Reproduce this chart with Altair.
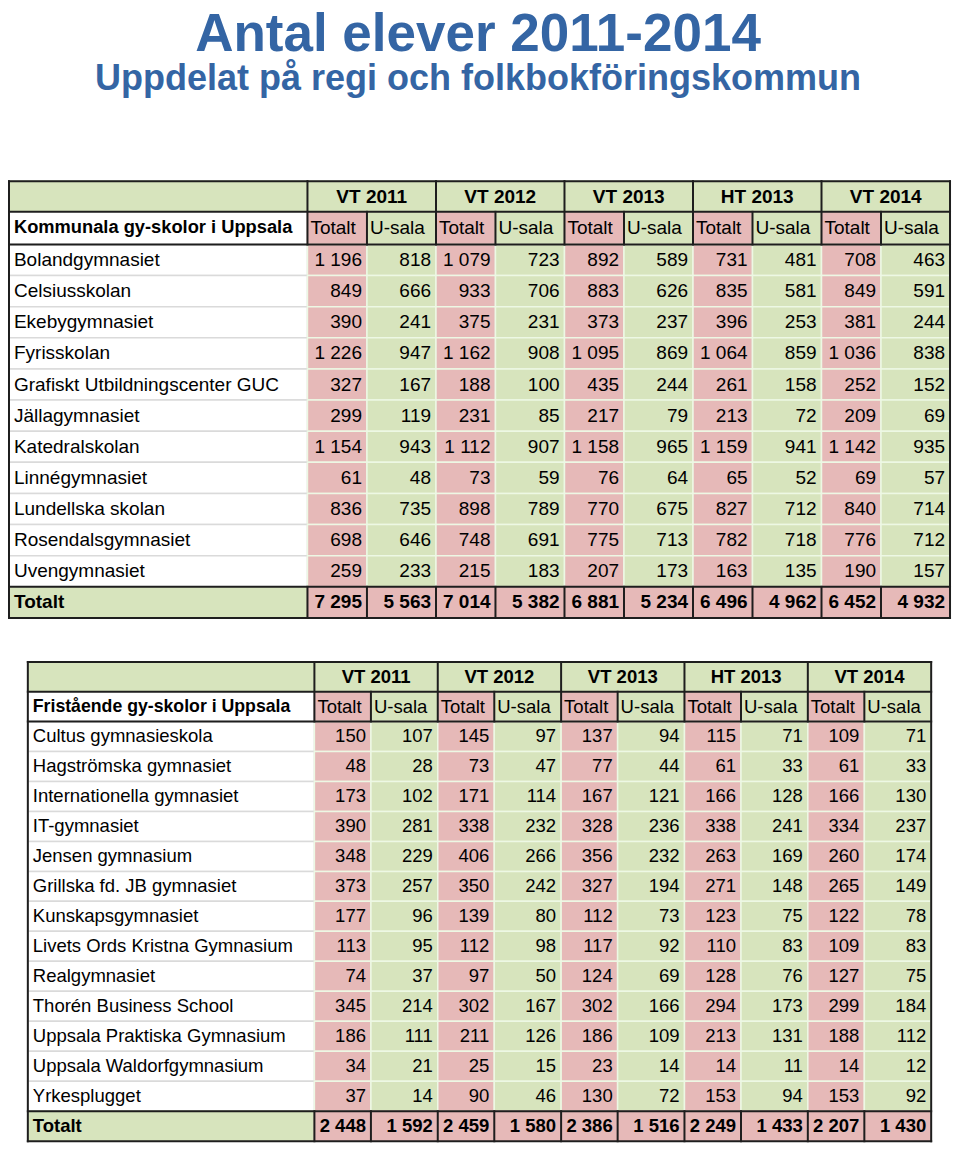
import altair as alt
import pandas as pd

# ---------------- data ----------------
title_main = "Antal elever 2011-2014"
title_sub = "Uppdelat på regi och folkbokföringskommun"

periods = ["VT 2011", "VT 2012", "VT 2013", "HT 2013", "VT 2014"]
subcols = ["Totalt", "U-sala"]
total_label = "Totalt"

kommunala_header = "Kommunala gy-skolor i Uppsala"
kommunala_schools = [
    "Bolandgymnasiet", "Celsiusskolan", "Ekebygymnasiet", "Fyrisskolan",
    "Grafiskt Utbildningscenter GUC", "Jällagymnasiet", "Katedralskolan",
    "Linnégymnasiet", "Lundellska skolan", "Rosendalsgymnasiet", "Uvengymnasiet",
]
kommunala_values = [
    [1196, 818, 1079, 723, 892, 589, 731, 481, 708, 463],
    [849, 666, 933, 706, 883, 626, 835, 581, 849, 591],
    [390, 241, 375, 231, 373, 237, 396, 253, 381, 244],
    [1226, 947, 1162, 908, 1095, 869, 1064, 859, 1036, 838],
    [327, 167, 188, 100, 435, 244, 261, 158, 252, 152],
    [299, 119, 231, 85, 217, 79, 213, 72, 209, 69],
    [1154, 943, 1112, 907, 1158, 965, 1159, 941, 1142, 935],
    [61, 48, 73, 59, 76, 64, 65, 52, 69, 57],
    [836, 735, 898, 789, 770, 675, 827, 712, 840, 714],
    [698, 646, 748, 691, 775, 713, 782, 718, 776, 712],
    [259, 233, 215, 183, 207, 173, 163, 135, 190, 157],
]
kommunala_totals = [7295, 5563, 7014, 5382, 6881, 5234, 6496, 4962, 6452, 4932]

fristaende_header = "Fristående gy-skolor i Uppsala"
fristaende_schools = [
    "Cultus gymnasieskola", "Hagströmska gymnasiet", "Internationella gymnasiet",
    "IT-gymnasiet", "Jensen gymnasium", "Grillska fd. JB gymnasiet",
    "Kunskapsgymnasiet", "Livets Ords Kristna Gymnasium", "Realgymnasiet",
    "Thorén Business School", "Uppsala Praktiska Gymnasium",
    "Uppsala Waldorfgymnasium", "Yrkesplugget",
]
fristaende_values = [
    [150, 107, 145, 97, 137, 94, 115, 71, 109, 71],
    [48, 28, 73, 47, 77, 44, 61, 33, 61, 33],
    [173, 102, 171, 114, 167, 121, 166, 128, 166, 130],
    [390, 281, 338, 232, 328, 236, 338, 241, 334, 237],
    [348, 229, 406, 266, 356, 232, 263, 169, 260, 174],
    [373, 257, 350, 242, 327, 194, 271, 148, 265, 149],
    [177, 96, 139, 80, 112, 73, 123, 75, 122, 78],
    [113, 95, 112, 98, 117, 92, 110, 83, 109, 83],
    [74, 37, 97, 50, 124, 69, 128, 76, 127, 75],
    [345, 214, 302, 167, 302, 166, 294, 173, 299, 184],
    [186, 111, 211, 126, 186, 109, 213, 131, 188, 112],
    [34, 21, 25, 15, 23, 14, 14, 11, 14, 12],
    [37, 14, 90, 46, 130, 72, 153, 94, 153, 92],
]
fristaende_totals = [2448, 1592, 2459, 1580, 2386, 1516, 2249, 1433, 2207, 1430]

# ---------------- styles ----------------
PINK = "#E6B9B8"
GREEN = "#D7E4BD"
WHITE = "#FFFFFF"
BLUE = "#3465A4"
DARK = "#1E1E1E"
LIGHT_VAL = "#EDF8E4"
LIGHT_LBL = "#DADADA"
FONT = "Liberation Sans"


def fmt(v):
    return f"{v:,}".replace(",", " ")


rects, rules, texts = [], [], []


def add_text(x, y, t, align, weight, size):
    texts.append(dict(x=x, y=y, text=t, align=align, weight=weight, size=size))


def build_table(header, schools, values, totals, left, label_w, group_w, tot_w,
                top, h1, h2, row_h, fs, hfs):
    n = len(periods)
    label_end = left + label_w
    right = label_end + group_w * n
    y_h1 = top + h1
    y_h2 = y_h1 + h2
    data_end = y_h2 + row_h * len(schools)
    bottom = data_end + row_h

    def gx(g):
        return label_end + g * group_w

    # header row 1
    rects.append(dict(x=left, x2=label_end, y=top, y2=y_h1, fill=GREEN, stroke=GREEN))
    for g, p in enumerate(periods):
        rects.append(dict(x=gx(g), x2=gx(g + 1), y=top, y2=y_h1, fill=GREEN, stroke=GREEN))
        add_text(gx(g) + group_w / 2, (top + y_h1) / 2, p, "center", "bold", fs)
    # header row 2
    rects.append(dict(x=left, x2=label_end, y=y_h1, y2=y_h2, fill=WHITE, stroke=WHITE))
    add_text(left + 5, (y_h1 + y_h2) / 2, header, "left", "bold", hfs)
    for g in range(n):
        xs = [gx(g), gx(g) + tot_w, gx(g + 1)]
        for k, s in enumerate(subcols):
            rects.append(dict(x=xs[k], x2=xs[k + 1], y=y_h1, y2=y_h2,
                              fill=PINK if k == 0 else GREEN, stroke=PINK if k == 0 else GREEN))
            add_text(xs[k] + 3, (y_h1 + y_h2) / 2, s, "left", "normal", fs)
    # data rows
    for r, (name, vals) in enumerate(zip(schools, values)):
        ya = y_h2 + r * row_h
        yb = ya + row_h
        ym = (ya + yb) / 2
        rects.append(dict(x=left, x2=label_end, y=ya, y2=yb, fill=WHITE, stroke=LIGHT_LBL))
        add_text(left + 5, ym, name, "left", "normal", fs)
        for g in range(n):
            xs = [gx(g), gx(g) + tot_w, gx(g + 1)]
            for k in range(2):
                rects.append(dict(x=xs[k], x2=xs[k + 1], y=ya, y2=yb,
                                  fill=PINK if k == 0 else GREEN, stroke=LIGHT_VAL))
                add_text(xs[k + 1] - 5, ym, fmt(vals[g * 2 + k]), "right", "normal", fs)
    # total row
    ym = (data_end + bottom) / 2
    rects.append(dict(x=left, x2=label_end, y=data_end, y2=bottom, fill=GREEN, stroke=GREEN))
    add_text(left + 5, ym, total_label, "left", "bold", fs)
    for g in range(n):
        xs = [gx(g), gx(g) + tot_w, gx(g + 1)]
        for k in range(2):
            rects.append(dict(x=xs[k], x2=xs[k + 1], y=data_end, y2=bottom, fill=PINK, stroke=PINK))
            add_text(xs[k + 1] - 5, ym, fmt(totals[g * 2 + k]), "right", "bold", fs)

    # dark borders
    for yy in [top, y_h1, y_h2, data_end, bottom]:
        rules.append(dict(x=left, x2=right, y=yy, y2=yy))
    for xx in [left, right]:
        rules.append(dict(x=xx, x2=xx, y=top, y2=bottom))
    for g in range(n):
        xe = gx(g)
        rules.append(dict(x=xe, x2=xe, y=top, y2=y_h2))
        rules.append(dict(x=xe, x2=xe, y=data_end, y2=bottom))
        xs = xe + tot_w
        rules.append(dict(x=xs, x2=xs, y=y_h1, y2=y_h2))
        rules.append(dict(x=xs, x2=xs, y=data_end, y2=bottom))


build_table(kommunala_header, kommunala_schools, kommunala_values, kommunala_totals,
            left=5, label_w=301, group_w=129.6, tot_w=60,
            top=177, h1=31, h2=33, row_h=31.45, fs=19, hfs=18.3)
build_table(fristaende_header, fristaende_schools, fristaende_values, fristaende_totals,
            left=24, label_w=289, group_w=124.4, tot_w=57,
            top=663, h1=30, h2=30, row_h=30.3, fs=18.5, hfs=17.7)

rect_df = pd.DataFrame(rects)
rule_df = pd.DataFrame(rules)
text_df = pd.DataFrame(texts)
title_df = pd.DataFrame([
    dict(x=478, y=45, text=title_main, size=53),
    dict(x=478, y=85, text=title_sub, size=36),
])

W, H = 944, 1136
xs = alt.Scale(domain=[4, 956], nice=False, zero=False)
ys = alt.Scale(domain=[2, 1150], nice=False, zero=False, reverse=True)

rect_layer = alt.Chart(rect_df).mark_rect(strokeWidth=1.5).encode(
    x=alt.X("x:Q", scale=xs, axis=None),
    x2="x2:Q",
    y=alt.Y("y:Q", scale=ys, axis=None),
    y2="y2:Q",
    fill=alt.Fill("fill:N", scale=None),
    stroke=alt.Stroke("stroke:N", scale=None),
)

rule_layer = alt.Chart(rule_df).mark_rule(color=DARK, strokeWidth=2, strokeCap="square").encode(
    x=alt.X("x:Q", scale=xs, axis=None),
    x2="x2:Q",
    y=alt.Y("y:Q", scale=ys, axis=None),
    y2="y2:Q",
)


def text_layer(align, weight):
    sub = text_df[(text_df["align"] == align) & (text_df["weight"] == weight)]
    return alt.Chart(sub).mark_text(
        align=align, baseline="middle", font=FONT, fontWeight=weight, color="#000000"
    ).encode(
        x=alt.X("x:Q", scale=xs, axis=None),
        y=alt.Y("y:Q", scale=ys, axis=None),
        text="text:N",
        size=alt.Size("size:Q", scale=None),
    )


text_layers = [text_layer(a, w) for a in ["left", "right", "center"] for w in ["normal", "bold"]
               if len(text_df[(text_df["align"] == a) & (text_df["weight"] == w)]) > 0]

title_layer = alt.Chart(title_df).mark_text(
    align="center", baseline="alphabetic", font=FONT, fontWeight="bold", color=BLUE
).encode(
    x=alt.X("x:Q", scale=xs, axis=None),
    y=alt.Y("y:Q", scale=ys, axis=None),
    text="text:N",
    size=alt.Size("size:Q", scale=None),
)

chart = alt.layer(rect_layer, rule_layer, *text_layers, title_layer).properties(
    width=W, height=H, padding=0,
    autosize=alt.AutoSizeParams(type="none"),
).configure_view(stroke=None)

chart.save("out.html", embed_options={"renderer": "svg", "actions": False})
